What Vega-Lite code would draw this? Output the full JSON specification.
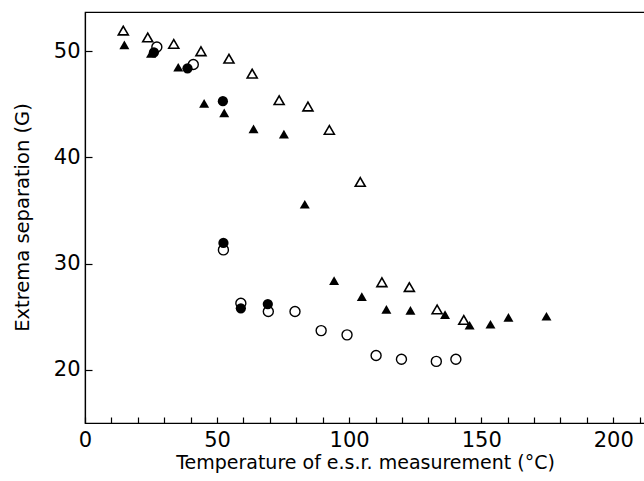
{
  "$schema": "https://vega.github.io/schema/vega-lite/v6.json",
  "autosize": "none",
  "padding": {"left": 85, "top": 12, "right": 0, "bottom": 58},
  "width": 560,
  "height": 411,
  "background": "white",
  "config": {
    "view": {"stroke": "black", "strokeWidth": 1.2},
    "font": "DejaVu Sans",
    "axis": {
      "domainColor": "black",
      "domainWidth": 1.2,
      "tickColor": "black",
      "tickWidth": 1.2,
      "labelColor": "black",
      "titleColor": "black",
      "labelFont": "DejaVu Sans",
      "titleFont": "DejaVu Sans",
      "labelFontWeight": "normal",
      "titleFontWeight": "normal",
      "grid": false
    }
  },
  "datasets": {
    "pts": [
      {"s": "otri", "t": 14.5, "g": 51.95},
      {"s": "otri", "t": 23.75, "g": 51.3},
      {"s": "otri", "t": 33.6, "g": 50.7},
      {"s": "otri", "t": 43.9, "g": 50.0},
      {"s": "otri", "t": 54.5, "g": 49.3},
      {"s": "otri", "t": 63.3, "g": 47.9},
      {"s": "otri", "t": 73.5, "g": 45.4},
      {"s": "otri", "t": 84.4, "g": 44.8},
      {"s": "otri", "t": 92.5, "g": 42.6},
      {"s": "otri", "t": 104.2, "g": 37.7},
      {"s": "otri", "t": 112.4, "g": 28.25},
      {"s": "otri", "t": 122.8, "g": 27.8},
      {"s": "otri", "t": 133.3, "g": 25.7},
      {"s": "otri", "t": 143.4, "g": 24.7},
      {"s": "ftri", "t": 14.9, "g": 50.6},
      {"s": "ftri", "t": 25.0, "g": 49.8},
      {"s": "ftri", "t": 35.3, "g": 48.5},
      {"s": "ftri", "t": 45.1, "g": 45.1},
      {"s": "ftri", "t": 52.7, "g": 44.2},
      {"s": "ftri", "t": 63.8, "g": 42.7},
      {"s": "ftri", "t": 75.3, "g": 42.2},
      {"s": "ftri", "t": 83.2, "g": 35.6},
      {"s": "ftri", "t": 94.3, "g": 28.4},
      {"s": "ftri", "t": 104.8, "g": 26.9},
      {"s": "ftri", "t": 114.1, "g": 25.7},
      {"s": "ftri", "t": 123.2, "g": 25.6},
      {"s": "ftri", "t": 136.3, "g": 25.2},
      {"s": "ftri", "t": 145.6, "g": 24.2},
      {"s": "ftri", "t": 153.5, "g": 24.3},
      {"s": "ftri", "t": 160.3, "g": 24.95},
      {"s": "ftri", "t": 174.7, "g": 25.05},
      {"s": "ocirc", "t": 27.2, "g": 50.4},
      {"s": "ocirc", "t": 41.0, "g": 48.75},
      {"s": "ocirc", "t": 52.4, "g": 31.3},
      {"s": "ocirc", "t": 59.0, "g": 26.27},
      {"s": "ocirc", "t": 69.4, "g": 25.5},
      {"s": "ocirc", "t": 79.5, "g": 25.5},
      {"s": "ocirc", "t": 89.4, "g": 23.7},
      {"s": "ocirc", "t": 99.2, "g": 23.3},
      {"s": "ocirc", "t": 110.2, "g": 21.35},
      {"s": "ocirc", "t": 119.8, "g": 21.0},
      {"s": "ocirc", "t": 133.0, "g": 20.8},
      {"s": "ocirc", "t": 140.4, "g": 21.0},
      {"s": "fcirc", "t": 26.1, "g": 49.9},
      {"s": "fcirc", "t": 38.8, "g": 48.4},
      {"s": "fcirc", "t": 52.2, "g": 45.3},
      {"s": "fcirc", "t": 52.4, "g": 31.96},
      {"s": "fcirc", "t": 59.0, "g": 25.8},
      {"s": "fcirc", "t": 69.2, "g": 26.2}
    ]
  },
  "data": {"name": "pts"},
  "encoding": {
    "x": {
      "field": "t",
      "type": "quantitative",
      "scale": {"domain": [0, 212], "nice": false, "zero": false},
      "axis": {
        "values": [0, 10, 20, 30, 40, 50, 60, 70, 80, 90, 100, 110, 120, 130, 140, 150, 160, 170, 180, 190, 200, 210],
        "labelExpr": "datum.value % 50 === 0 ? datum.label : ''",
        "tickSize": -6,
        "labelPadding": 12,
        "labelFontSize": 21,
        "labelBaseline": "top",
        "labelFlush": false,
        "title": "Temperature of e.s.r. measurement  (°C)",
        "titleFontSize": 19,
        "titleX": 280,
        "titleY": 39,
        "titleBaseline": "middle",
        "titleAlign": "center"
      }
    },
    "y": {
      "field": "g",
      "type": "quantitative",
      "scale": {"domain": [15, 53.7], "nice": false, "zero": false},
      "axis": {
        "values": [20, 30, 40, 50],
        "tickSize": -7,
        "labelPadding": 12,
        "labelFontSize": 21,
        "labelBaseline": "middle",
        "labelFlush": false,
        "title": "Extrema separation (G)",
        "titleFontSize": 19.5,
        "titleAngle": -90,
        "titleX": -63,
        "titleY": 205,
        "titleAlign": "center",
        "titleBaseline": "middle"
      }
    }
  },
  "layer": [
    {
      "transform": [{"filter": "datum.s === 'otri'"}],
      "mark": {"type": "point", "shape": "triangle-up", "filled": false, "stroke": "black", "strokeWidth": 1.6, "size": 100, "opacity": 1}
    },
    {
      "transform": [{"filter": "datum.s === 'ftri'"}],
      "mark": {"type": "point", "shape": "triangle-up", "filled": true, "fill": "black", "size": 100, "opacity": 1}
    },
    {
      "transform": [{"filter": "datum.s === 'ocirc'"}],
      "mark": {"type": "point", "shape": "circle", "filled": false, "fill": "white", "stroke": "black", "strokeWidth": 1.4, "size": 100, "opacity": 1}
    },
    {
      "transform": [{"filter": "datum.s === 'fcirc'"}],
      "mark": {"type": "point", "shape": "circle", "filled": true, "fill": "black", "size": 105, "opacity": 1}
    }
  ]
}
